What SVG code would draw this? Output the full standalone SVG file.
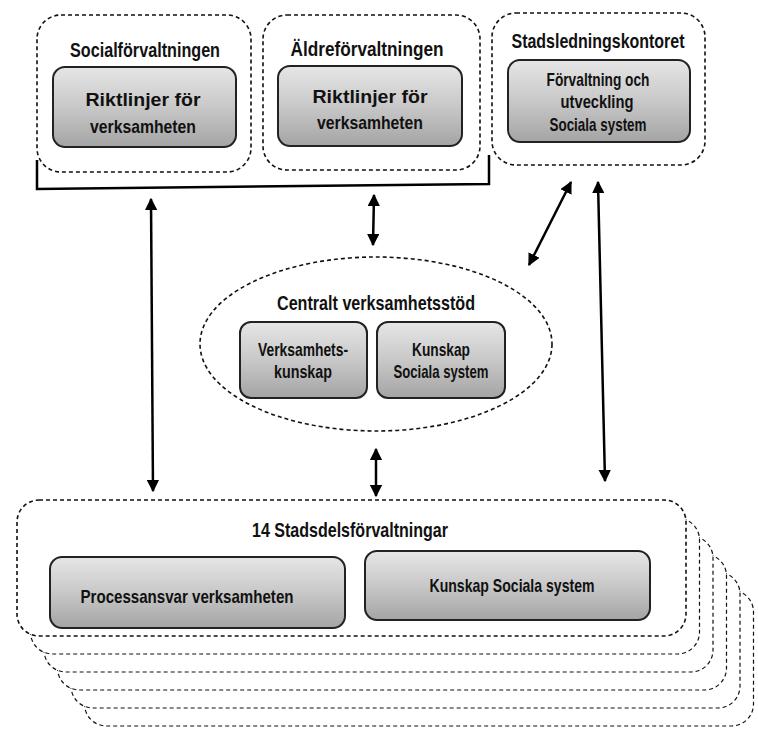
<svg xmlns="http://www.w3.org/2000/svg" width="758" height="731" viewBox="0 0 758 731">
<defs>
<linearGradient id="stip" x1="0" y1="0" x2="0" y2="1">
<stop offset="0" stop-color="#e6e6e6"/>
<stop offset="0.5" stop-color="#c8c8c8"/>
<stop offset="1" stop-color="#a4a4a4"/>
</linearGradient>
<marker id="ah" viewBox="0 0 10 10" refX="9" refY="5" markerWidth="5" markerHeight="5" orient="auto-start-reverse" markerUnits="strokeWidth">
<path d="M0,0 L10,5 L0,10 Z" fill="#000"/>
</marker>
<style>
.outer{fill:#fff;stroke:#111;stroke-width:1.6;stroke-dasharray:4 3}
.stack{fill:#fff;stroke:#111;stroke-width:1.2;stroke-dasharray:4 3}
.inner{fill:url(#stip);stroke:#222;stroke-width:2}
.t{font-family:"Liberation Sans Narrow","Liberation Sans",Arial,sans-serif;font-weight:bold;fill:#111;text-anchor:middle}
.h{font-size:21px}
.i{font-size:19px}
.arr{stroke:#000;stroke-width:2.5;fill:none;marker-start:url(#ah);marker-end:url(#ah)}
</style>
</defs>
<rect width="758" height="731" fill="#fff"/>

<g id="socialforvaltningen">
<rect class="outer" x="37" y="15" width="214" height="157" rx="24"/>
<text class="t h" x="145" y="57" textLength="150" lengthAdjust="spacingAndGlyphs">Socialförvaltningen</text>
<rect class="inner" x="53" y="67" width="183" height="80" rx="12"/>
<text class="t i" x="143" y="106" textLength="115" lengthAdjust="spacingAndGlyphs">Riktlinjer för</text>
<text class="t i" x="143" y="133" textLength="106" lengthAdjust="spacingAndGlyphs">verksamheten</text>
</g>

<g id="aldreforvaltningen">
<rect class="outer" x="263" y="15" width="217" height="155" rx="24"/>
<text class="t h" x="367" y="56" textLength="153" lengthAdjust="spacingAndGlyphs">Äldreförvaltningen</text>
<rect class="inner" x="278" y="66" width="184" height="80" rx="12"/>
<text class="t i" x="370" y="103" textLength="115" lengthAdjust="spacingAndGlyphs">Riktlinjer för</text>
<text class="t i" x="370" y="129" textLength="106" lengthAdjust="spacingAndGlyphs">verksamheten</text>
</g>

<g id="stadsledningskontoret">
<rect class="outer" x="492" y="13" width="213" height="152" rx="24"/>
<text class="t h" x="598" y="48" textLength="173" lengthAdjust="spacingAndGlyphs">Stadsledningskontoret</text>
<rect class="inner" x="508" y="60" width="182" height="82" rx="12"/>
<text class="t i" x="598" y="86" textLength="103" lengthAdjust="spacingAndGlyphs">Förvaltning och</text>
<text class="t i" x="597" y="108" textLength="73" lengthAdjust="spacingAndGlyphs">utveckling</text>
<text class="t i" x="598" y="131" textLength="97" lengthAdjust="spacingAndGlyphs">Sociala system</text>
</g>

<g id="bracket">
<polyline points="37,160 37,189 489,184 489,155" fill="none" stroke="#000" stroke-width="2.5"/>
</g>

<g id="centralt">
<ellipse class="outer" cx="376" cy="344" rx="176" ry="87"/>
<text class="t h" x="376" y="310" textLength="198" lengthAdjust="spacingAndGlyphs">Centralt verksamhetsstöd</text>
<rect class="inner" x="240" y="322" width="127" height="76" rx="11"/>
<text class="t i" x="303" y="356" textLength="90" lengthAdjust="spacingAndGlyphs">Verksamhets-</text>
<text class="t i" x="303" y="378" textLength="58" lengthAdjust="spacingAndGlyphs">kunskap</text>
<rect class="inner" x="377" y="322" width="128" height="76" rx="11"/>
<text class="t i" x="441" y="356" textLength="58" lengthAdjust="spacingAndGlyphs">Kunskap</text>
<text class="t i" x="441" y="378" textLength="95" lengthAdjust="spacingAndGlyphs">Sociala system</text>
</g>

<g id="stadsdelsforvaltningar">
<rect class="stack" x="84.5" y="590" width="669" height="136" rx="22"/>
<rect class="stack" x="71" y="572" width="669" height="136" rx="22"/>
<rect class="stack" x="57.5" y="554" width="669" height="136" rx="22"/>
<rect class="stack" x="44" y="536" width="669" height="136" rx="22"/>
<rect class="stack" x="30.5" y="518" width="669" height="136" rx="22"/>
<rect class="outer" x="17" y="500" width="669" height="136" rx="22"/>
<text class="t h" x="350" y="537" textLength="196" lengthAdjust="spacingAndGlyphs">14 Stadsdelsförvaltningar</text>
<rect class="inner" x="50" y="557" width="295" height="71" rx="12"/>
<text class="t i" x="187" y="603" textLength="213" lengthAdjust="spacingAndGlyphs">Processansvar verksamheten</text>
<rect class="inner" x="365" y="551" width="285" height="69" rx="12"/>
<text class="t i" x="512" y="592" textLength="165" lengthAdjust="spacingAndGlyphs">Kunskap Sociala system</text>
</g>

<g id="connectors">
<line class="arr" x1="151" y1="199" x2="153" y2="491"/>
<line class="arr" x1="374" y1="195" x2="373" y2="245"/>
<line class="arr" x1="571" y1="182" x2="529" y2="265"/>
<line class="arr" x1="598" y1="182" x2="605" y2="481"/>
<line class="arr" x1="376" y1="449" x2="376" y2="496"/>
</g>
</svg>
